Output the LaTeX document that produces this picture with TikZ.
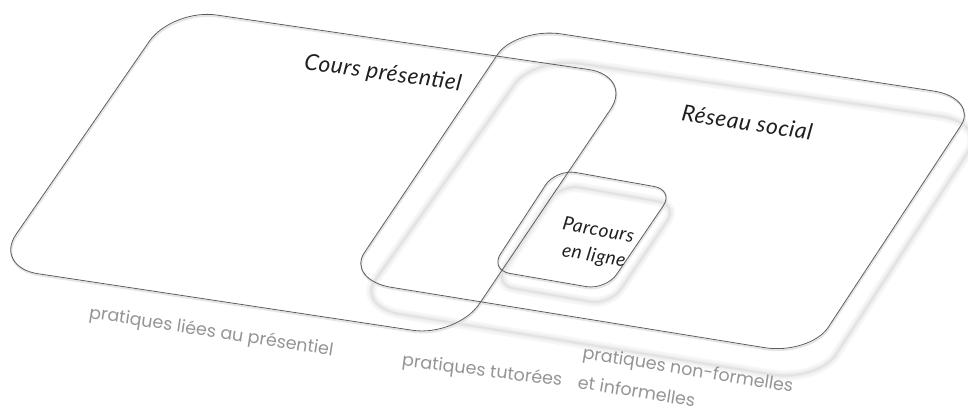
\documentclass[tikz,border=0pt]{standalone}
\usepackage{fontspec}
\usetikzlibrary{calc}
\newfontfamily\titlefont{Lato}[LetterSpace=3]
\newfontfamily\notefont{Poppins}
% rounded quadrilateral: #1 style, #2 TL, #3 TR, #4 BR, #5 BL, #6 radius along top/bottom, #7 radius along sides
\newcommand\rquad[7]{%
  \draw[#1]
    ($(#2)!#6!(#3)$) -- ($(#3)!#6!(#2)$)
    .. controls ($(#3)!0.4477*#6!(#2)$) and ($(#3)!0.4477*#7!(#4)$) .. ($(#3)!#7!(#4)$)
    -- ($(#4)!#7!(#3)$)
    .. controls ($(#4)!0.4477*#7!(#3)$) and ($(#4)!0.4477*#6!(#5)$) .. ($(#4)!#6!(#5)$)
    -- ($(#5)!#6!(#4)$)
    .. controls ($(#5)!0.4477*#6!(#4)$) and ($(#5)!0.4477*#7!(#2)$) .. ($(#5)!#7!(#2)$)
    -- ($(#2)!#7!(#5)$)
    .. controls ($(#2)!0.4477*#7!(#5)$) and ($(#2)!0.4477*#6!(#3)$) .. ($(#2)!#6!(#3)$) -- cycle;}
\tikzset{
  outline/.style={draw=black!64, line width=0.8pt, line join=round},
  faint/.style={draw=black!10, line width=1.8pt, line join=round},
  softshadow/.style={draw=black!6, line width=6pt, line join=round,
     preaction={draw=black!3, line width=10pt},
     postaction={draw=black!11, line width=2.4pt}},
  title/.style={font=\titlefont\itshape\fontsize{22.5}{26}\selectfont, text=black!88, inner sep=0pt, anchor=base},
  note/.style={font=\notefont\fontsize{17.5}{30}\selectfont, text=black!42, inner sep=0pt, anchor=base}
}
\begin{document}
\begin{tikzpicture}[x=1pt, y=-1pt]
\useasboundingbox (0,0) rectangle (968,409);
% corners (pixel coordinates, y downwards)
\coordinate (a1) at (172,8.5);  \coordinate (a2) at (633,76);
\coordinate (a3) at (457,337);  \coordinate (a4) at (-6.5,267);
\coordinate (b1) at (516,27);   \coordinate (b2) at (979,98);
\coordinate (b3) at (810,355);  \coordinate (b4) at (346,280);
\coordinate (bs1) at (534,57);  \coordinate (bs2) at (987,123);
\coordinate (bs3) at (818,382); \coordinate (bs4) at (356,307);
\coordinate (c1) at (556,169);  \coordinate (c2) at (674,190);
\coordinate (c3) at (606,290);  \coordinate (c4) at (490,270);
\coordinate (cs1) at (560,184); \coordinate (cs2) at (678,205);
\coordinate (cs3) at (610,305); \coordinate (cs4) at (494,285);
% soft shadows
\rquad{softshadow}{bs1}{bs2}{bs3}{bs4}{46pt}{33pt}
\rquad{softshadow}{cs1}{cs2}{cs3}{cs4}{20pt}{19pt}
% faint drop shadow under outlines
\begin{scope}[transform canvas={shift={(0.6pt,-1.6pt)}}]
\rquad{faint}{a1}{a2}{a3}{a4}{45pt}{40pt}
\rquad{faint}{b1}{b2}{b3}{b4}{46pt}{33pt}
\rquad{faint}{c1}{c2}{c3}{c4}{20pt}{19pt}
\end{scope}
% outlines
\rquad{outline}{a1}{a2}{a3}{a4}{45pt}{40pt}
\rquad{outline}{b1}{b2}{b3}{b4}{46pt}{33pt}
\rquad{outline}{c1}{c2}{c3}{c4}{20pt}{19pt}
% titles
\node[title, rotate=-7.8] (cours) at (382,80) {Cours présentiel};
\node[title, rotate=-8.7] (reseau) at (746,130.5) {Réseau social};
\node[title, font=\titlefont\itshape\fontsize{19}{26}\selectfont, rotate=-10, align=center, anchor=center] (parcours) at (596,244) {Parcours\\en ligne};
% notes
\node[note, rotate=-8.8] (lab1) at (210.5,337) {pratiques liées au présentiel};
\node[note, rotate=-7.2] (lab2) at (481.5,376) {pratiques tutorées};
\node[note, rotate=-9.2, align=left, anchor=north west] (lab3) at (584,345) {pratiques non-formelles\\et informelles};
\end{tikzpicture}
\end{document}
